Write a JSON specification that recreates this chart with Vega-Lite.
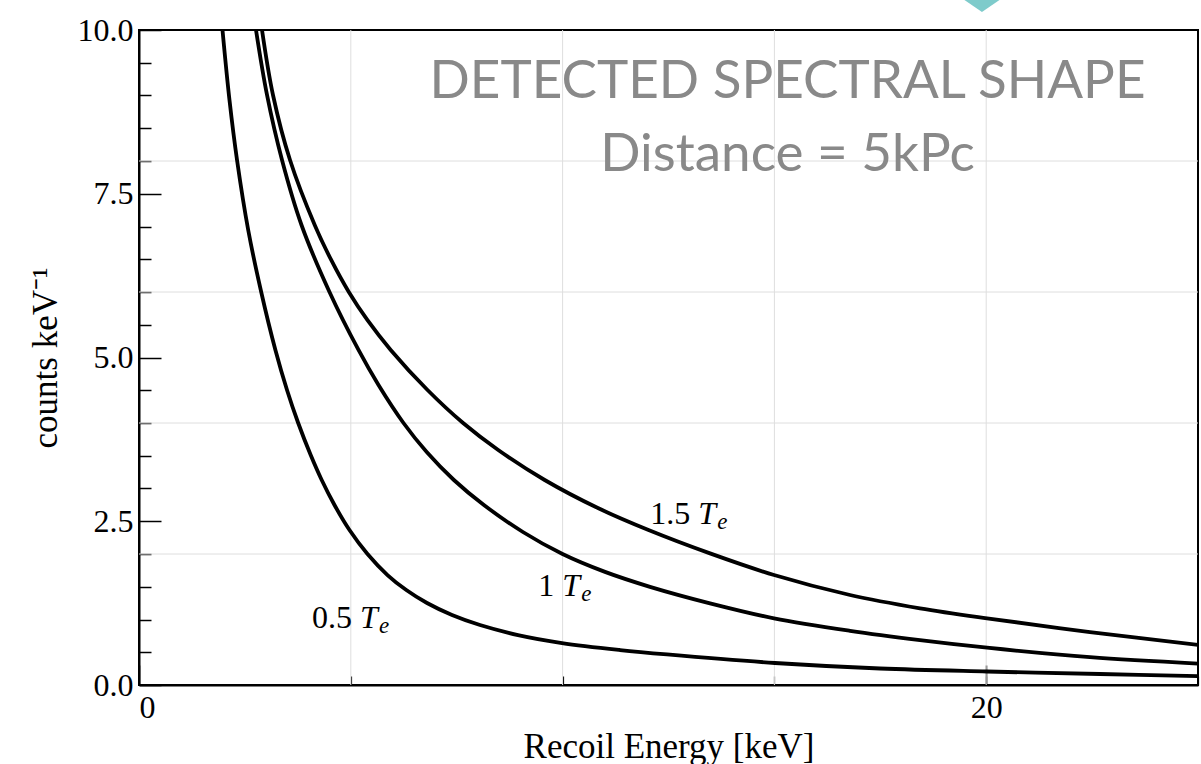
{
  "$schema": "https://vega.github.io/schema/vega-lite/v6.json",
  "width": 1059,
  "height": 655,
  "autosize": {"type": "none"},
  "padding": {"left": 139, "top": 30, "right": 3, "bottom": 79},
  "background": "white",
  "config": {
    "view": {"stroke": "black", "strokeWidth": 2},
    "axis": {
      "labelFont": "Liberation Serif",
      "labelFontSize": 32,
      "labelColor": "black",
      "titleFont": "Liberation Serif",
      "titleFontSize": 35,
      "titleFontWeight": "normal",
      "titleColor": "black",
      "tickColor": "black",
      "domainColor": "black",
      "grid": false
    }
  },
  "resolve": {
    "scale": {"x": "independent", "y": "independent"},
    "axis": {"x": "independent", "y": "independent"}
  },
  "layer": [
    {
      "data": {"values": [{"gx": 5}, {"gx": 10}, {"gx": 15}, {"gx": 20}]},
      "mark": {"type": "rule", "color": "#dedede", "strokeWidth": 1},
      "encoding": {
        "x": {
          "field": "gx", "type": "quantitative",
          "scale": {"domain": [0, 25], "nice": false, "zero": false},
          "axis": {"orient": "bottom", "values": [5, 10, 15, 20, 25], "tickSize": -9, "tickWidth": 1.2, "labels": false, "domain": false, "title": null}
        }
      }
    },
    {
      "data": {"values": [{"gy": 2}, {"gy": 4}, {"gy": 6}, {"gy": 8}]},
      "mark": {"type": "rule", "color": "#dedede", "strokeWidth": 1},
      "encoding": {
        "y": {
          "field": "gy", "type": "quantitative",
          "scale": {"domain": [0, 10], "nice": false, "zero": false},
          "axis": {"orient": "left", "values": [0.5, 1, 1.5, 2, 3, 3.5, 4, 4.5, 5.5, 6, 6.5, 7, 8, 8.5, 9, 9.5], "tickSize": -12, "tickWidth": 1.5, "labels": false, "domain": false, "title": null}
        }
      }
    },
    {
      "data": {"values": [
        {"s": "0.5", "E": 1.971, "c": 10.0}, {"s": "0.5", "E": 2.136, "c": 8.931}, {"s": "0.5", "E": 2.314, "c": 8.015}, {"s": "0.5", "E": 2.578, "c": 6.947},
        {"s": "0.5", "E": 2.885, "c": 6.0}, {"s": "0.5", "E": 3.22, "c": 5.115}, {"s": "0.5", "E": 3.494, "c": 4.504}, {"s": "0.5", "E": 3.758, "c": 4.0},
        {"s": "0.5", "E": 4.053, "c": 3.511}, {"s": "0.5", "E": 4.313, "c": 3.13}, {"s": "0.5", "E": 4.615, "c": 2.748}, {"s": "0.5", "E": 4.969, "c": 2.366},
        {"s": "0.5", "E": 5.394, "c": 2.0}, {"s": "0.5", "E": 5.866, "c": 1.679}, {"s": "0.5", "E": 6.31, "c": 1.45}, {"s": "0.5", "E": 6.799, "c": 1.252},
        {"s": "0.5", "E": 7.389, "c": 1.069}, {"s": "0.5", "E": 8.05, "c": 0.916}, {"s": "0.5", "E": 8.947, "c": 0.763}, {"s": "0.5", "E": 9.986, "c": 0.641},
        {"s": "0.5", "E": 11.355, "c": 0.534}, {"s": "0.5", "E": 12.465, "c": 0.466}, {"s": "0.5", "E": 15.014, "c": 0.336}, {"s": "0.5", "E": 17.493, "c": 0.252},
        {"s": "0.5", "E": 20.019, "c": 0.206}, {"s": "0.5", "E": 22.686, "c": 0.168}, {"s": "0.5", "E": 25.0, "c": 0.137},
        {"s": "1", "E": 2.762, "c": 10.0}, {"s": "1", "E": 3.022, "c": 9.008}, {"s": "1", "E": 3.376, "c": 8.015}, {"s": "1", "E": 3.836, "c": 7.023},
        {"s": "1", "E": 4.497, "c": 6.0}, {"s": "1", "E": 5.182, "c": 5.115}, {"s": "1", "E": 5.654, "c": 4.58}, {"s": "1", "E": 6.244, "c": 4.0},
        {"s": "1", "E": 6.792, "c": 3.557}, {"s": "1", "E": 7.434, "c": 3.13}, {"s": "1", "E": 8.142, "c": 2.748}, {"s": "1", "E": 9.063, "c": 2.336},
        {"s": "1", "E": 9.998, "c": 2.0}, {"s": "1", "E": 11.001, "c": 1.727}, {"s": "1", "E": 12.063, "c": 1.499}, {"s": "1", "E": 13.48, "c": 1.247},
        {"s": "1", "E": 14.991, "c": 1.018}, {"s": "1", "E": 16.785, "c": 0.827}, {"s": "1", "E": 18.437, "c": 0.685}, {"s": "1", "E": 20.019, "c": 0.569},
        {"s": "1", "E": 22.45, "c": 0.424}, {"s": "1", "E": 25.0, "c": 0.327},
        {"s": "1.5", "E": 2.904, "c": 10.0}, {"s": "1.5", "E": 3.163, "c": 9.008}, {"s": "1.5", "E": 3.565, "c": 8.015}, {"s": "1.5", "E": 4.148, "c": 7.023},
        {"s": "1.5", "E": 4.537, "c": 6.489}, {"s": "1.5", "E": 4.953, "c": 6.0}, {"s": "1.5", "E": 5.39, "c": 5.573}, {"s": "1.5", "E": 5.942, "c": 5.115},
        {"s": "1.5", "E": 6.811, "c": 4.504}, {"s": "1.5", "E": 7.651, "c": 4.0}, {"s": "1.5", "E": 8.48, "c": 3.588}, {"s": "1.5", "E": 9.577, "c": 3.13},
        {"s": "1.5", "E": 10.833, "c": 2.702}, {"s": "1.5", "E": 12.028, "c": 2.366}, {"s": "1.5", "E": 13.48, "c": 2.009},
        {"s": "1.5", "E": 14.991, "c": 1.679}, {"s": "1.5", "E": 16.785, "c": 1.374}, {"s": "1.5", "E": 18.437, "c": 1.171}, {"s": "1.5", "E": 20.019, "c": 1.018},
        {"s": "1.5", "E": 22.45, "c": 0.808}, {"s": "1.5", "E": 25.0, "c": 0.611}
      ]},
      "mark": {"type": "line", "color": "black", "strokeWidth": 3.8, "interpolate": "catmull-rom", "clip": true},
      "encoding": {
        "x": {
          "field": "E", "type": "quantitative",
          "scale": {"domain": [0, 25], "nice": false, "zero": false},
          "axis": {"orient": "bottom", "values": [0, 20], "tickSize": -20, "tickWidth": 1.5, "domainWidth": 2, "labelPadding": 27, "title": "Recoil Energy [keV]", "titlePadding": 6}
        },
        "y": {
          "field": "c", "type": "quantitative",
          "scale": {"domain": [0, 10], "nice": false, "zero": false},
          "axis": {"orient": "left", "values": [0, 2.5, 5, 7.5, 10], "format": ".1f", "tickSize": -22, "tickWidth": 1.5, "domainWidth": 2, "labelPadding": 28, "title": "counts keV⁻¹", "titlePadding": 14}
        },
        "detail": {"field": "s", "type": "nominal"}
      }
    },
    {
      "data": {"values": [{"n": "1.5", "x": 13.2, "y": 2.458}, {"n": "1", "x": 9.99, "y": 1.359}, {"n": "0.5", "x": 5.22, "y": 0.865}]},
      "mark": {"type": "text", "font": "Liberation Serif", "fontSize": 32, "color": "black", "align": "right", "baseline": "alphabetic", "dx": -8},
      "encoding": {
        "x": {"field": "x", "type": "quantitative", "scale": {"domain": [0, 25], "nice": false, "zero": false}, "axis": null},
        "y": {"field": "y", "type": "quantitative", "scale": {"domain": [0, 10], "nice": false, "zero": false}, "axis": null},
        "text": {"field": "n"}
      }
    },
    {
      "data": {"values": [{"n": "1.5", "x": 13.2, "y": 2.458}, {"n": "1", "x": 9.99, "y": 1.359}, {"n": "0.5", "x": 5.22, "y": 0.865}]},
      "mark": {"type": "text", "font": "Liberation Serif", "fontSize": 32, "fontStyle": "italic", "color": "black", "align": "left", "baseline": "alphabetic", "text": "T"},
      "encoding": {
        "x": {"field": "x", "type": "quantitative", "scale": {"domain": [0, 25], "nice": false, "zero": false}, "axis": null},
        "y": {"field": "y", "type": "quantitative", "scale": {"domain": [0, 10], "nice": false, "zero": false}, "axis": null}
      }
    },
    {
      "data": {"values": [{"n": "1.5", "x": 13.2, "y": 2.458}, {"n": "1", "x": 9.99, "y": 1.359}, {"n": "0.5", "x": 5.22, "y": 0.865}]},
      "mark": {"type": "text", "font": "Liberation Serif", "fontSize": 23, "fontStyle": "italic", "color": "black", "align": "left", "baseline": "alphabetic", "text": "e", "dx": 19, "dy": 5},
      "encoding": {
        "x": {"field": "x", "type": "quantitative", "scale": {"domain": [0, 25], "nice": false, "zero": false}, "axis": null},
        "y": {"field": "y", "type": "quantitative", "scale": {"domain": [0, 10], "nice": false, "zero": false}, "axis": null}
      }
    },
    {
      "data": {"values": [{"t": "DETECTED SPECTRAL SHAPE", "x": 15.31, "y": 8.96}, {"t": "Distance = 5kPc", "x": 15.31, "y": 7.85}]},
      "mark": {"type": "text", "font": "Lato", "fontSize": 53, "color": "#898989", "align": "center", "baseline": "alphabetic"},
      "encoding": {
        "x": {"field": "x", "type": "quantitative", "scale": {"domain": [0, 25], "nice": false, "zero": false}, "axis": null},
        "y": {"field": "y", "type": "quantitative", "scale": {"domain": [0, 10], "nice": false, "zero": false}, "axis": null},
        "text": {"field": "t"}
      }
    },
    {
      "data": {"values": [{"x": 19.9, "y": 10.504}]},
      "mark": {"type": "point", "shape": "M0,1L-1.46,0L0,-1L1.46,0Z", "size": 900, "filled": true, "color": "#7ecbcb", "opacity": 1, "clip": false},
      "encoding": {
        "x": {"field": "x", "type": "quantitative", "scale": {"domain": [0, 25], "nice": false, "zero": false}, "axis": null},
        "y": {"field": "y", "type": "quantitative", "scale": {"domain": [0, 10], "nice": false, "zero": false}, "axis": null}
      }
    }
  ]
}
